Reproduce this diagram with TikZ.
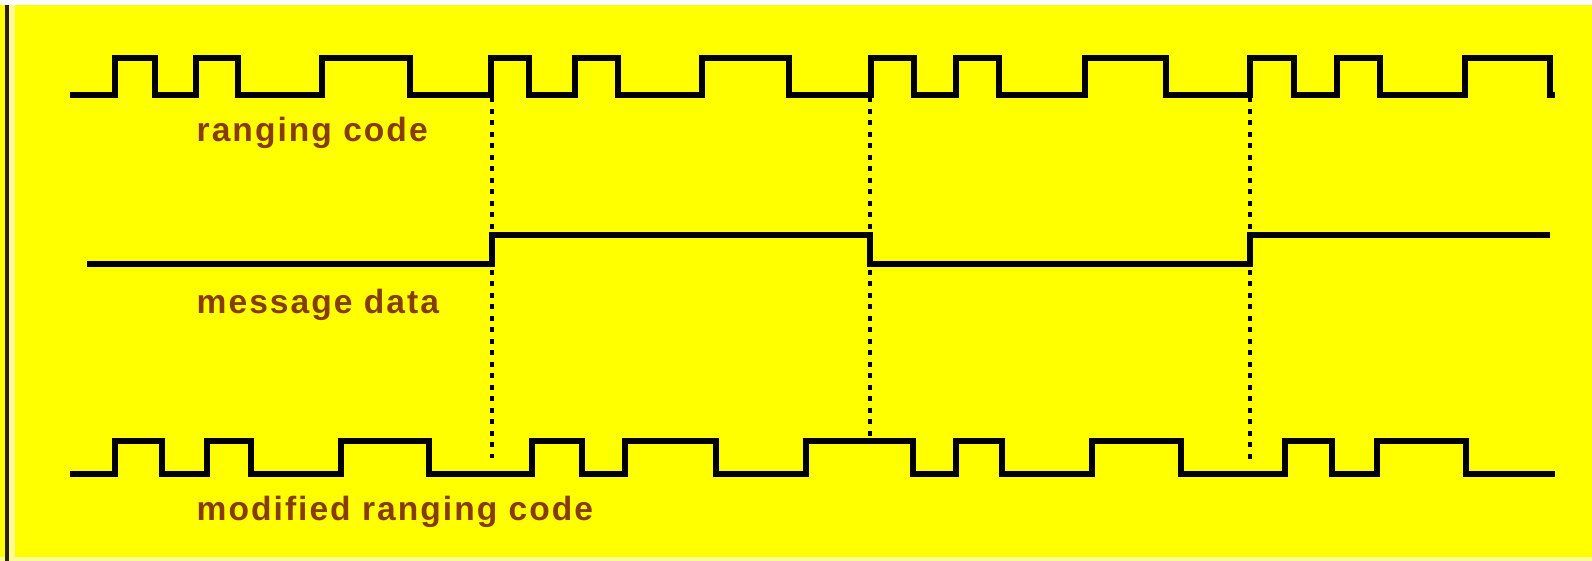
\documentclass[tikz,border=0pt]{standalone}
\usepackage{fontspec}
\setmainfont{Liberation Sans}
\usetikzlibrary{positioning}
\definecolor{bgyellow}{RGB}{255,255,0}
\definecolor{labelcol}{RGB}{135,60,0}
\definecolor{edgecol}{RGB}{45,32,0}
\definecolor{paleyellow}{RGB}{250,250,150}

\begin{document}
\begin{tikzpicture}[x=0.01cm,y=-0.01cm,
  wave/.style={line width=1.7pt,line join=miter,color=black},
  sync/.style={line width=0.9pt,dash pattern=on 0.05cm off 0.065cm},
  lbl/.style={anchor=west,inner sep=0pt,text=labelcol,font=\fontsize{9.55}{12}\selectfont\bfseries\addfontfeatures{LetterSpace=6}}]
% frame
\useasboundingbox (0,0) rectangle (1592,561);
\fill[bgyellow] (0,0) rectangle (1592,561);
\fill[white] (0,0) rectangle (1592,5);
\fill[paleyellow] (9,5) rectangle (15,561);
\fill[paleyellow] (0,557) rectangle (1592,561);
\fill[edgecol] (5,5) rectangle (9,561);
% ranging code
\draw[wave] (70,95) \foreach \a/\b in {115/155,196/238,322/410,491/529,575/618,702/789,871/914,956/999,1085/1166,1250/1294,1337/1380,1465/1550}{ -- (\a,95) -- (\a,58) -- (\b,58) -- (\b,95)} -- (1555,95);
\node[lbl] (rc) at (196,133) {ranging code};
% message data
\draw[wave] (87,264) -- (492,264) -- (492,235) -- (870,235) -- (870,264) -- (1250,264) -- (1250,235) -- (1550,235);
\node[lbl] (md) at (196,305) {message data};
% modified ranging code
\draw[wave] (70,474) \foreach \a/\b in {115/162,207/251,341/429,532/582,625/716,806/913,956/1002,1092/1181,1285/1332,1377/1466}{ -- (\a,474) -- (\a,441) -- (\b,441) -- (\b,474)} -- (1555,474);
\node[lbl] (mrc) at (196,512) {modified ranging code};
% bit boundaries
\draw[sync] (492,97) -- (492,458);
\draw[sync] (870,97) -- (870,441);
\draw[sync] (1250,97) -- (1250,462);
\end{tikzpicture}
\end{document}
